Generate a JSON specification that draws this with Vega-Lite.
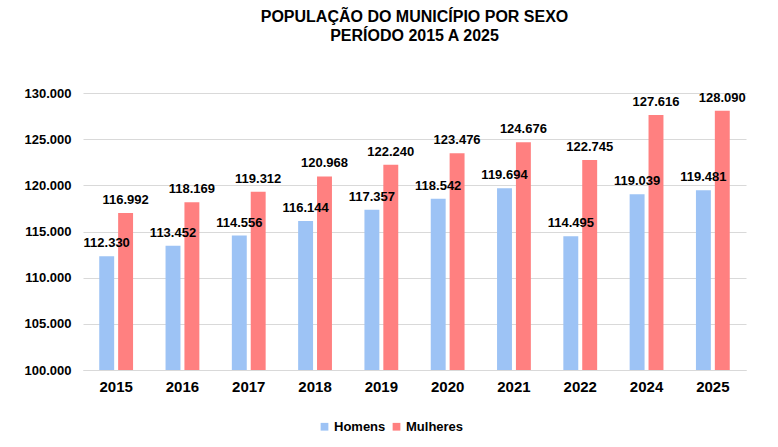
{
  "$schema": "https://vega.github.io/schema/vega-lite/v6.json",
  "autosize": {"type": "none"},
  "width": 663,
  "height": 277,
  "padding": {"left": 83, "top": 93, "right": 32, "bottom": 77},
  "background": "white",
  "title": {
    "text": ["POPULAÇÃO DO MUNICÍPIO POR SEXO", "PERÍODO 2015 A 2025"],
    "font": "Liberation Sans",
    "fontSize": 16,
    "fontWeight": "bold",
    "color": "black",
    "anchor": "middle",
    "frame": "group",
    "lineHeight": 19,
    "offset": 43
  },
  "config": {
    "view": {"stroke": null},
    "locale": {
      "number": {"decimal": ",", "thousands": ".", "grouping": [3], "currency": ["R$", ""]}
    },
    "axis": {"labelFont": "Liberation Sans", "titleFont": "Liberation Sans"},
    "legend": {"labelFont": "Liberation Sans"},
    "text": {"font": "Liberation Sans"}
  },
  "data": {
    "values": [
      {"ano": "2015", "sexo": "Homens", "pop": 112330},
      {"ano": "2015", "sexo": "Mulheres", "pop": 116992},
      {"ano": "2016", "sexo": "Homens", "pop": 113452},
      {"ano": "2016", "sexo": "Mulheres", "pop": 118169},
      {"ano": "2017", "sexo": "Homens", "pop": 114556},
      {"ano": "2017", "sexo": "Mulheres", "pop": 119312},
      {"ano": "2018", "sexo": "Homens", "pop": 116144},
      {"ano": "2018", "sexo": "Mulheres", "pop": 120968},
      {"ano": "2019", "sexo": "Homens", "pop": 117357},
      {"ano": "2019", "sexo": "Mulheres", "pop": 122240},
      {"ano": "2020", "sexo": "Homens", "pop": 118542},
      {"ano": "2020", "sexo": "Mulheres", "pop": 123476},
      {"ano": "2021", "sexo": "Homens", "pop": 119694},
      {"ano": "2021", "sexo": "Mulheres", "pop": 124676},
      {"ano": "2022", "sexo": "Homens", "pop": 114495},
      {"ano": "2022", "sexo": "Mulheres", "pop": 122745},
      {"ano": "2024", "sexo": "Homens", "pop": 119039},
      {"ano": "2024", "sexo": "Mulheres", "pop": 127616},
      {"ano": "2025", "sexo": "Homens", "pop": 119481},
      {"ano": "2025", "sexo": "Mulheres", "pop": 128090}
    ]
  },
  "encoding": {
    "x": {
      "field": "ano",
      "type": "nominal",
      "title": null,
      "scale": {"paddingInner": 0.49, "paddingOuter": 0.245},
      "axis": {
        "labelAngle": 0,
        "labelFontSize": 15,
        "labelFontWeight": "bold",
        "labelColor": "black",
        "labelPadding": 9,
        "ticks": false,
        "domainColor": "#d9d9d9",
        "domainWidth": 1
      }
    },
    "xOffset": {
      "field": "sexo",
      "type": "nominal",
      "scale": {"paddingInner": 0.21, "paddingOuter": 0}
    },
    "y": {
      "field": "pop",
      "type": "quantitative",
      "title": null,
      "scale": {"domain": [100000, 130000], "zero": false, "nice": false},
      "axis": {
        "values": [100000, 105000, 110000, 115000, 120000, 125000, 130000],
        "format": ",d",
        "labelFontSize": 13,
        "labelFontWeight": "bold",
        "labelColor": "black",
        "labelPadding": 12,
        "ticks": false,
        "domain": false,
        "gridColor": "#d9d9d9",
        "gridWidth": 1
      }
    }
  },
  "layer": [
    {
      "mark": {"type": "bar"},
      "encoding": {
        "y2": {"datum": 100000},
        "color": {
          "field": "sexo",
          "type": "nominal",
          "title": null,
          "scale": {"domain": ["Homens", "Mulheres"], "range": ["#9dc3f5", "#ff8080"]},
          "legend": {
            "orient": "none",
            "legendX": 235,
            "legendY": 327,
            "direction": "horizontal",
            "symbolType": "square",
            "symbolSize": 60,
            "symbolStrokeWidth": 0,
            "labelFontSize": 13,
            "labelFontWeight": "bold",
            "labelColor": "black",
            "labelOffset": 3,
            "columnPadding": 4
          }
        }
      }
    },
    {
      "mark": {
        "type": "text",
        "baseline": "alphabetic",
        "align": "center",
        "dy": -9,
        "fontSize": 13,
        "fontWeight": "bold",
        "color": "black"
      },
      "encoding": {
        "text": {"field": "pop", "type": "quantitative", "format": ",d"}
      }
    }
  ]
}
